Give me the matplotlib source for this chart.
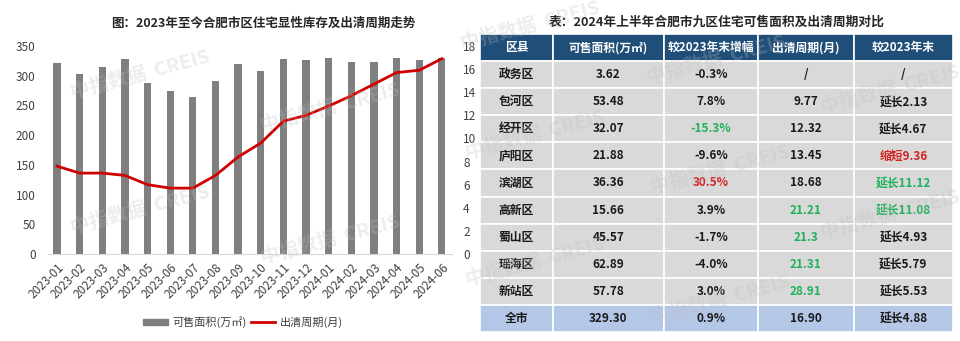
import matplotlib.pyplot as plt
from matplotlib.patches import Rectangle, Patch
from matplotlib.lines import Line2D

plt.rcParams['font.family'] = ['Noto Sans CJK SC', 'DejaVu Sans']

# monthly inventory (10k sqm) and clearance cycle (months)
months = ['2023-01', '2023-02', '2023-03', '2023-04', '2023-05', '2023-06',
          '2023-07', '2023-08', '2023-09', '2023-10', '2023-11', '2023-12',
          '2024-01', '2024-02', '2024-03', '2024-04', '2024-05', '2024-06']
inventory = [322, 303, 314, 328, 288, 274, 264, 291, 319, 308, 328, 326,
             329, 323, 323, 329, 327, 329.3]
cycle = [7.6, 7.0, 7.0, 6.8, 6.0, 5.7, 5.7, 6.8, 8.4, 9.6, 11.5, 12.0,
         12.8, 13.7, 14.7, 15.7, 15.9, 16.9]

# district table
table_header = ['区县', '可售面积(万㎡)', '较2023年末增幅', '出清周期(月)', '较2023年末']
districts = ['政务区', '包河区', '经开区', '庐阳区', '滨湖区', '高新区', '蜀山区', '瑶海区', '新站区', '全市']
area = ['3.62', '53.48', '32.07', '21.88', '36.36', '15.66', '45.57', '62.89', '57.78', '329.30']
area_chg = ['-0.3%', '7.8%', '-15.3%', '-9.6%', '30.5%', '3.9%', '-1.7%', '-4.0%', '3.0%', '0.9%']
clear_months = ['/', '9.77', '12.32', '13.45', '18.68', '21.21', '21.3', '21.31', '28.91', '16.90']
vs_2023 = ['/', '延长2.13', '延长4.67', '缩短9.36', '延长11.12', '延长11.08', '延长4.93', '延长5.79', '延长5.53', '延长4.88']

GREEN = '#1fb25a'
RED = '#d42323'
# coloured cells, keyed by (district index, column)
highlight = {(2, 2): GREEN, (4, 2): RED, (3, 4): RED, (4, 4): GREEN, (5, 4): GREEN,
             (5, 3): GREEN, (6, 3): GREEN, (7, 3): GREEN, (8, 3): GREEN}

fig = plt.figure(figsize=(9.6, 3.41), dpi=100)

# ---- left: bar + line chart ----
ax = fig.add_axes([48 / 960, 1 - 254 / 341, (452 - 48) / 960, (254 - 46) / 341])
x = range(len(months))
ax.bar(x, inventory, width=0.32, color='#7f7f7f', zorder=2)
ax.set_ylim(0, 350)
ax.set_yticks(range(0, 351, 50))
ax.set_xlim(-0.4, 17.45)
ax.set_xticks(list(x))
ax.set_xticklabels(months, rotation=45, ha='right', rotation_mode='anchor', fontsize=8, color='#404040')
ax.tick_params(axis='both', length=0, labelsize=8.5, colors='#404040')
ax.tick_params(axis='y', pad=9)
ax.tick_params(axis='x', pad=5)
for s in ['top', 'right', 'left']:
    ax.spines[s].set_visible(False)
ax.spines['bottom'].set_color('#d9d9d9')

ax2 = ax.twinx()
ax2.plot(x, cycle, color='#d00000', lw=2, solid_joinstyle='round', zorder=3)
ax2.set_ylim(0, 18)
ax2.set_yticks(range(0, 19, 2))
ax2.tick_params(axis='y', length=0, labelsize=8.5, colors='#404040', pad=8)
for s in ['top', 'right', 'left', 'bottom']:
    ax2.spines[s].set_visible(False)

fig.text(263 / 960, 1 - 23 / 341, '图：2023年至今合肥市区住宅显性库存及出清周期走势',
         ha='center', va='center', fontsize=9, fontweight='bold', color='#262626')

handles = [Patch(color='#7f7f7f'), Line2D([0], [0], color='#d00000', lw=2)]
fig.legend(handles, ['可售面积(万㎡)', '出清周期(月)'], loc='center',
           bbox_to_anchor=(243 / 960, 1 - 322 / 341), ncol=2, frameon=False,
           fontsize=8, handlelength=2.2, handleheight=0.5, columnspacing=0.4,
           handletextpad=0.4, labelcolor='#404040')

# ---- right: table ----
tx0, tx1, ty0, ty1 = 480, 953, 34, 332
tax = fig.add_axes([tx0 / 960, 1 - ty1 / 341, (tx1 - tx0) / 960, (ty1 - ty0) / 341])
col_px = [72.7, 111.6, 93.4, 96.3, 99.3]
tot = sum(col_px)
col_edges = [0]
for w in col_px:
    col_edges.append(col_edges[-1] + w / tot)
n_rows = len(districts) + 1
rh = 1 / n_rows
tax.set_xlim(0, 1)
tax.set_ylim(0, 1)
tax.axis('off')

rows = [table_header] + [[d, a, c, m, v] for d, a, c, m, v in
                         zip(districts, area, area_chg, clear_months, vs_2023)]
for r, row in enumerate(rows):
    y0 = 1 - (r + 1) * rh
    if r == 0:
        bg, fg = '#1f4e79', 'white'
    elif r == n_rows - 1:
        bg, fg = '#b4c7e7', '#1a1a1a'
    else:
        bg, fg = '#d9d9d9', '#1a1a1a'
    for c, txt in enumerate(row):
        cx0, cx1 = col_edges[c], col_edges[c + 1]
        tax.add_patch(Rectangle((cx0, y0), cx1 - cx0, rh, facecolor=bg,
                                edgecolor='white', lw=1.2))
        color = highlight.get((r - 1, c), fg)
        tax.text((cx0 + cx1) / 2, y0 + rh / 2, txt, ha='center', va='center',
                 fontsize=8.5, fontweight='bold', color=color)

fig.text(717 / 960, 1 - 22 / 341, '表：2024年上半年合肥市九区住宅可售面积及出清周期对比',
         ha='center', va='center', fontsize=9.2, fontweight='bold', color='#262626')

# faint diagonal watermark
wm_pos = [(140, 75), (140, 210), (330, 108), (330, 240), (530, 26), (535, 135),
          (535, 262), (716, 60), (720, 170), (720, 300), (890, 90), (890, 215)]
for px, py in wm_pos:
    fig.text(px / 960, 1 - py / 341, '中指数据  CREIS', ha='center', va='center',
             rotation=15, fontsize=14, fontweight='bold', color='#bfbfbf', alpha=0.28, zorder=10)

fig.savefig('out.png', dpi=100)
